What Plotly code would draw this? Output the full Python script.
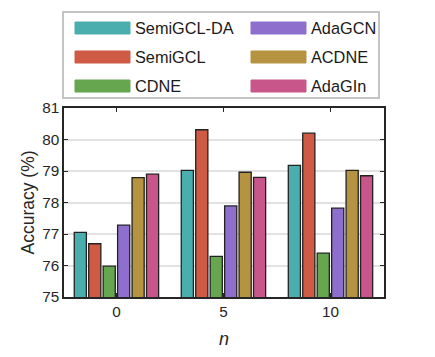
import plotly.graph_objects as go

groups = ['0', '5', '10']
methods = ['SemiGCL-DA', 'SemiGCL', 'CDNE', 'AdaGCN', 'ACDNE', 'AdaGIn']
colors = ['#4AADAE', '#D05B44', '#66A64F', '#8E6FCE', '#B69341', '#C8568A']
acc = {
    'SemiGCL-DA': [77.05, 79.02, 79.18],
    'SemiGCL':    [76.69, 80.31, 80.20],
    'CDNE':       [75.98, 76.29, 76.39],
    'AdaGCN':     [77.28, 77.89, 77.82],
    'ACDNE':      [78.79, 78.96, 79.02],
    'AdaGIn':     [78.90, 78.80, 78.85],
}

font = 'Liberation Sans, Arial, sans-serif'
fig = go.Figure()
for m, c in zip(methods, colors):
    fig.add_trace(go.Bar(x=groups, y=acc[m], name=m, marker_color=c,
                         marker_line=dict(color='#222222', width=1.3),
                         showlegend=False))

# page body adds an 8px offset, so plot area on screen is x 64..384, y 108..297
OFF = 8
W, H = 320, 189
L, T = 64, 108

def px(x):
    return (x - L) / W

def py(y):
    return (T + H - y) / H

# hand-made legend: long swatches in two columns, column-major order
shapes, annos = [], []
shapes.append(dict(type='rect', xref='paper', yref='paper',
                   x0=px(63), x1=px(379), y0=py(98), y1=py(12),
                   line=dict(color='#c4c4c4', width=2), fillcolor='white'))
rows_y = [28, 57, 86]
cols_x = [75, 251]
for i, (m, c) in enumerate(zip(methods, colors)):
    cx = cols_x[i // 3]
    cy = rows_y[i % 3]
    shapes.append(dict(type='rect', xref='paper', yref='paper',
                       x0=px(cx), x1=px(cx + 55), y0=py(cy + 6), y1=py(cy - 6),
                       line=dict(color=c, width=1), fillcolor=c))
    annos.append(dict(x=px(cx + 58), y=py(cy), xref='paper', yref='paper',
                      text=m, showarrow=False, xanchor='left', yanchor='middle',
                      font=dict(size=16.3, color='#1a1a1a', family=font)))

fig.update_layout(
    width=435, height=357,
    margin=dict(l=L - OFF, r=435 - (L - OFF) - W, t=T - OFF, b=357 - (T - OFF) - H),
    paper_bgcolor='white', plot_bgcolor='white',
    barmode='group', bargap=0.19, bargroupgap=0.16,
    font=dict(family=font, size=15, color='#262626'),
    shapes=shapes, annotations=annos,
    xaxis=dict(title=dict(text='<i>n</i>', standoff=13, font=dict(size=18)),
               showline=True, linecolor='#262626', linewidth=1.5, mirror='ticks',
               ticks='inside', ticklen=4, tickcolor='#262626', range=[-0.49, 2.5],
               tickfont=dict(size=15.3)),
    yaxis=dict(title=dict(text='Accuracy (%)', standoff=3, font=dict(size=17.5)),
               range=[75, 81], dtick=1, showgrid=True, gridcolor='#e2e2e2', gridwidth=2,
               showline=True, linecolor='#262626', linewidth=1.5, mirror='ticks',
               ticks='inside', ticklen=4, tickcolor='#262626', zeroline=False,
               tickfont=dict(size=15.3)),
)

fig.write_html('out.html')
